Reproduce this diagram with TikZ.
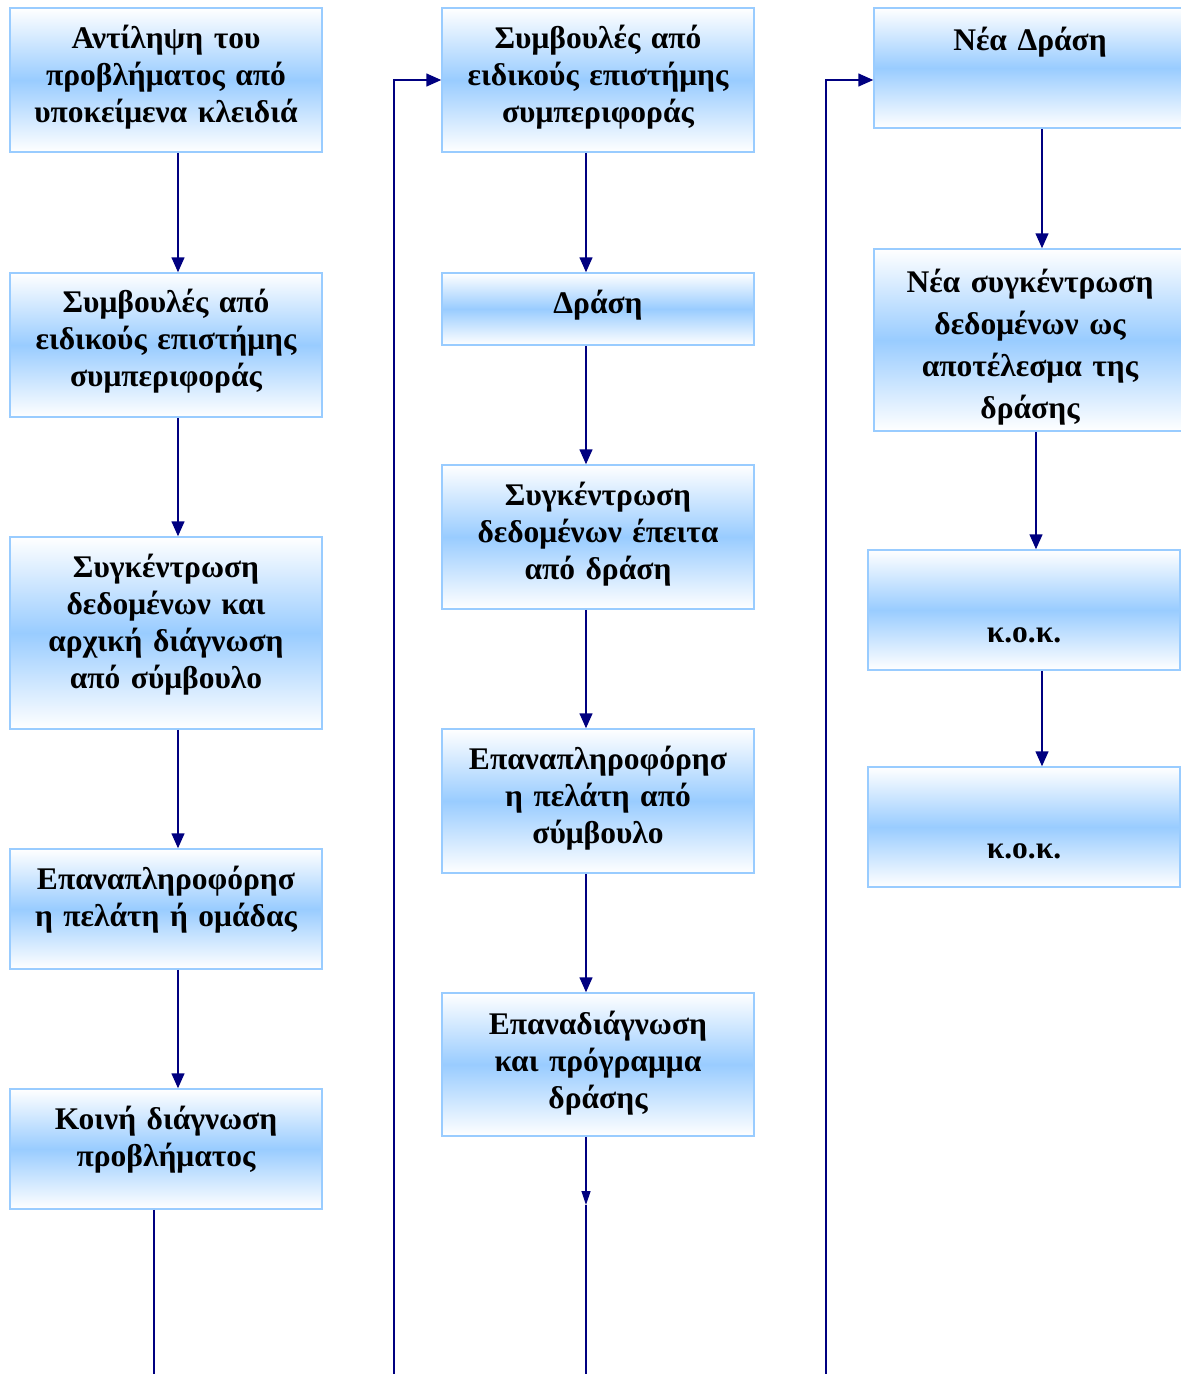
\documentclass[tikz,border=0pt]{standalone}
\usepackage{fontspec}
\setmainfont{Liberation Serif}
\usetikzlibrary{arrows.meta,calc}
\definecolor{boxblue}{RGB}{153,204,255}
\definecolor{boxline}{RGB}{153,204,255}
\definecolor{navyline}{RGB}{0,0,128}
\tikzset{
  flowbox/.style={rectangle, draw=boxline, line width=1.5pt, top color=white, bottom color=white, middle color=boxblue, minimum width=312pt, inner sep=0pt},
  boxtext/.style={anchor=north, inner sep=0pt, text width=312pt, align=center, font=\fontsize{31.5}{37}\selectfont\bfseries},
  arr/.style={draw=navyline, line width=1.5pt, -{Triangle[length=15pt,width=13pt]}},
  smallarr/.style={draw=navyline, line width=1.2pt, -{Triangle[length=14pt,width=9pt]}},
  plainline/.style={draw=navyline, line width=1.2pt}
}
\begin{document}
\begin{tikzpicture}[x=1pt,y=-1pt]
\useasboundingbox (0,0) rectangle (1181,1374);
\clip (0,0) rectangle (1181,1374);
\fill[white] (0,0) rectangle (1181,1374);
% column 1
\node[flowbox, minimum height=144pt] (b1) at (166,80) {};
\node[flowbox, minimum height=144pt] (b2) at (166,345) {};
\node[flowbox, minimum height=192pt] (b3) at (166,633) {};
\node[flowbox, minimum height=120pt] (b4) at (166,909) {};
\node[flowbox, minimum height=120pt] (b5) at (166,1149) {};
% column 2
\node[flowbox, minimum height=144pt] (c1) at (598,80) {};
\node[flowbox, minimum height=72pt] (c2) at (598,309) {};
\node[flowbox, minimum height=144pt] (c3) at (598,537) {};
\node[flowbox, minimum height=144pt] (c4) at (598,801) {};
\node[flowbox, minimum height=143pt] (c5) at (598,1064.5) {};
% column 3
\node[flowbox, minimum height=120pt] (d1) at (1030,68) {};
\node[flowbox, minimum height=182pt] (d2) at (1030,340) {};
\node[flowbox, minimum height=120pt] (d3) at (1024,610) {};
\node[flowbox, minimum height=120pt] (d4) at (1024,827) {};
% texts
\node[boxtext] (tb1) at ([yshift=-15pt]b1.north) {\strut Αντίληψη του\\προβλήματος από\\υποκείμενα κλειδιά};
\node[boxtext] (tb2) at ([yshift=-14pt]b2.north) {\strut Συμβουλές από\\ειδικούς επιστήμης\\συμπεριφοράς};
\node[boxtext] (tb3) at ([yshift=-15pt]b3.north) {\strut Συγκέντρωση\\δεδομένων και\\αρχική διάγνωση\\από σύμβουλο};
\node[boxtext] (tb4) at ([yshift=-15pt]b4.north) {\strut Επαναπληροφόρησ\\η πελάτη ή ομάδας};
\node[boxtext] (tb5) at ([yshift=-15pt]b5.north) {\strut Κοινή διάγνωση\\προβλήματος};
\node[boxtext] (tc1) at ([yshift=-15pt]c1.north) {\strut Συμβουλές από\\ειδικούς επιστήμης\\συμπεριφοράς};
\node[boxtext] (tc2) at ([yshift=-15pt]c2.north) {\strut Δράση};
\node[boxtext] (tc3) at ([yshift=-15pt]c3.north) {\strut Συγκέντρωση\\δεδομένων έπειτα\\από δράση};
\node[boxtext] (tc4) at ([yshift=-15pt]c4.north) {\strut Επαναπληροφόρησ\\η πελάτη από\\σύμβουλο};
\node[boxtext] (tc5) at ([yshift=-16pt]c5.north) {\strut Επαναδιάγνωση\\και πρόγραμμα\\δράσης};
\node[boxtext] (td1) at ([yshift=-17pt]d1.north) {\strut Νέα Δράση};
\node[boxtext, font=\fontsize{31.5}{42}\selectfont\bfseries] (td2) at ([yshift=-15pt]d2.north) {\strut Νέα συγκέντρωση\\δεδομένων ως\\αποτέλεσμα της\\δράσης};
\node[boxtext] (td3) at ([yshift=-67pt]d3.north) {\strut κ.ο.κ.};
\node[boxtext] (td4) at ([yshift=-66pt]d4.north) {\strut κ.ο.κ.};
% bottom and mid coordinates
\coordinate (e1) at (154,1380);
\coordinate (e2) at (394,1380);
\coordinate (e3) at (586,1380);
\coordinate (e4) at (826,1380);
\coordinate (m3) at (586,1205);
% arrows column 1
\draw[arr] ([xshift=12pt]b1.south) -- ([xshift=12pt]b2.north);
\draw[arr] ([xshift=12pt]b2.south) -- ([xshift=12pt]b3.north);
\draw[arr] ([xshift=12pt]b3.south) -- ([xshift=12pt]b4.north);
\draw[arr] ([xshift=12pt]b4.south) -- ([xshift=12pt]b5.north);
\draw[plainline] ([xshift=-12pt]b5.south) -- (e1);
% arrows column 2
\draw[arr] ([xshift=-12pt]c1.south) -- ([xshift=-12pt]c2.north);
\draw[arr] ([xshift=-12pt]c2.south) -- ([xshift=-12pt]c3.north);
\draw[arr] ([xshift=-12pt]c3.south) -- ([xshift=-12pt]c4.north);
\draw[arr] ([xshift=-12pt]c4.south) -- ([xshift=-12pt]c5.north);
\draw[smallarr] ([xshift=-12pt]c5.south) -- (m3);
\draw[plainline] (m3) -- (e3);
\draw[arr] (e2) |- (c1.west);
% arrows column 3
\draw[arr] ([xshift=12pt]d1.south) -- ([xshift=12pt]d2.north);
\draw[arr] ([xshift=6pt]d2.south) -- ([xshift=12pt]d3.north);
\draw[arr] ([xshift=18pt]d3.south) -- ([xshift=18pt]d4.north);
\draw[arr] (e4) |- ([yshift=-12pt]d1.west);
\end{tikzpicture}
\end{document}
